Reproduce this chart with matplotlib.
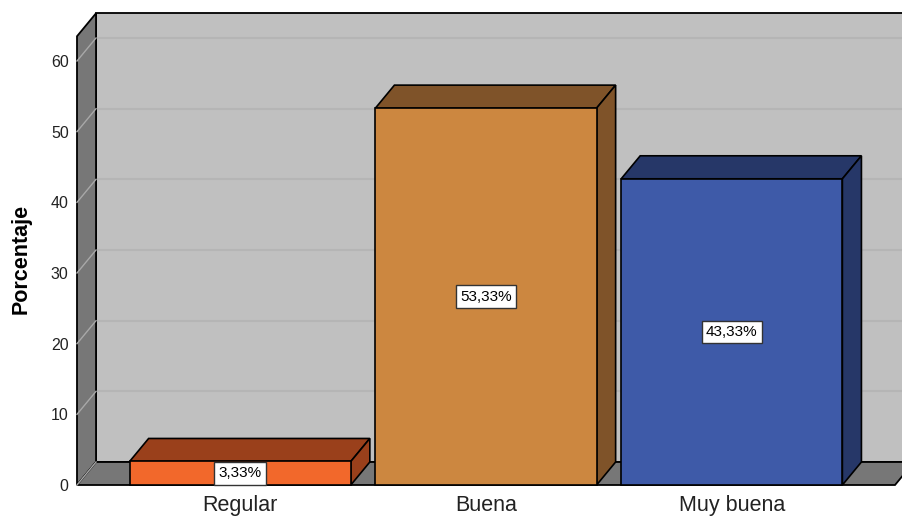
import matplotlib
matplotlib.use("Agg")
import matplotlib.pyplot as plt
from matplotlib.patches import Polygon

plt.rcParams['font.family'] = ['Liberation Sans', 'DejaVu Sans']

categories = ["Regular", "Buena", "Muy buena"]
values = [3.33, 53.33, 43.33]
value_labels = ["3,33%", "53,33%", "43,33%"]
yticks = [0, 10, 20, 30, 40, 50, 60]

front_colors = ["#f2682b", "#cc8740", "#3e5aa8"]
shade_colors = ["#9a401b", "#7f5329", "#263768"]

fig = plt.figure(figsize=(9.02, 5.18), dpi=100)
ax = fig.add_axes([77 / 902, 33 / 518, 818 / 902, 424 / 518])
ax.set_xlim(-0.664, 2.664)
ax.set_ylim(0, 60)
for s in ax.spines.values():
    s.set_visible(False)
ax.patch.set_visible(False)

# depth offset of the 3D effect, in data units
DX = 19 / 245.5
DY = 23 / (424 / 60)
x0, x1 = ax.get_xlim()
ytop = 63.5

# back wall
ax.add_patch(Polygon([(x0 + DX, DY), (x1 + DX, DY), (x1 + DX, ytop + DY), (x0 + DX, ytop + DY)],
                     closed=True, facecolor="#c0c0c0", edgecolor="black", lw=1.3,
                     clip_on=False, zorder=0))
# left wall
ax.add_patch(Polygon([(x0, 0), (x0 + DX, DY), (x0 + DX, ytop + DY), (x0, ytop)],
                     closed=True, facecolor="#777777", edgecolor="black", lw=1.3,
                     clip_on=False, zorder=1))
# floor
ax.add_patch(Polygon([(x0, 0), (x1, 0), (x1 + DX, DY), (x0 + DX, DY)],
                     closed=True, facecolor="#777777", edgecolor="black", lw=1.3,
                     clip_on=False, zorder=1))

# gridlines on back wall and left wall
for t in yticks:
    if t > 0:
        ax.plot([x0 + DX, x1 + DX], [t + DY, t + DY], color="#b5b5b5", lw=1.5,
                clip_on=False, zorder=0.5)
    ax.plot([x0, x0 + DX], [t, t + DY], color="#a8a8a8", lw=1.0,
            clip_on=False, zorder=1.5)

# bars: front faces
width = 0.9
xs = list(range(len(categories)))
ax.bar(xs, values, width=width, color=front_colors, edgecolor="black", lw=1.2,
       zorder=3, clip_on=False)

# bars: top and side faces
for x, v, sc in zip(xs, values, shade_colors):
    l, r = x - width / 2, x + width / 2
    ax.add_patch(Polygon([(l, v), (r, v), (r + DX, v + DY), (l + DX, v + DY)],
                         closed=True, facecolor=sc, edgecolor="black", lw=1.2,
                         clip_on=False, zorder=2.9))
    ax.add_patch(Polygon([(r, 0), (r + DX, DY), (r + DX, v + DY), (r, v)],
                         closed=True, facecolor=sc, edgecolor="black", lw=1.2,
                         clip_on=False, zorder=2.9))

# value labels
for x, v, lab in zip(xs, values, value_labels):
    ax.text(x, v / 2, lab, ha="center", va="center", fontsize=11, color="black",
            zorder=6,
            bbox=dict(boxstyle="square,pad=0.28", facecolor="white",
                      edgecolor="#333333", lw=1.0))

ax.set_xticks(xs)
ax.set_xticklabels(categories, fontsize=15.5, color="#222222")
ax.set_yticks(yticks)
ax.set_yticklabels([str(t) for t in yticks], fontsize=11.5, color="#222222")
ax.tick_params(axis="both", length=0)
ax.tick_params(axis="x", pad=7)
ax.tick_params(axis="y", pad=6)

ax.set_ylabel("Porcentaje", fontsize=15.5, fontweight="bold")
ax.yaxis.set_label_coords(-0.055, 0.533)

fig.savefig("out.png", dpi=100, facecolor="white")
